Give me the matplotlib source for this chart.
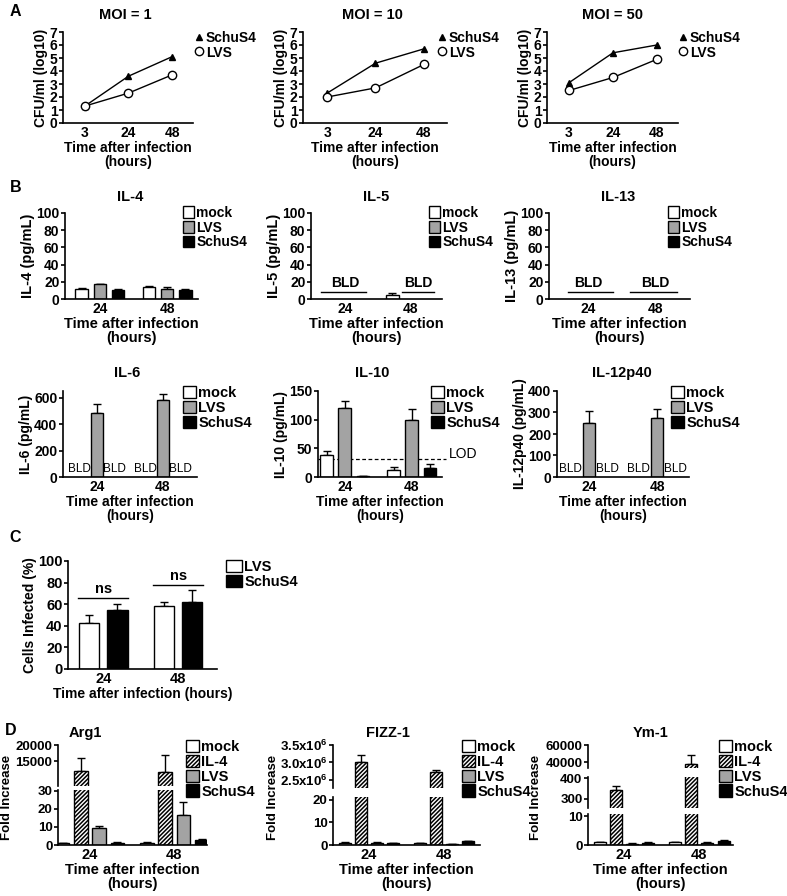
"""
Multi-panel figure: Francisella growth in macrophages (A), cytokines (B),
percent infected cells (C) and M2 marker expression (D).
"""

import numpy as np
import matplotlib
matplotlib.use("Agg")
import matplotlib.pyplot as plt
from matplotlib.patches import Patch
from matplotlib.lines import Line2D
from matplotlib import font_manager

# ---- Panel A: CFU/ml (log10) ----
moi_titles = ["MOI = 1", "MOI = 10", "MOI = 50"]
cfu_times = ["3", "24", "48"]
cfu_schus4 = [[1.3, 3.6, 5.1], [2.3, 4.6, 5.7], [3.1, 5.4, 6.0]]
cfu_lvs = [[1.3, 2.3, 3.7], [2.0, 2.7, 4.5], [2.5, 3.5, 4.9]]

# ---- Panel B: cytokines (pg/mL), nan = below limit of detection ----
cyto_times = ["24", "48"]
il4_mock, il4_mock_err = [12, 14], [1.0, 1.0]
il4_lvs, il4_lvs_err = [17, 12], [0.8, 2.5]
il4_schus4, il4_schus4_err = [11, 11], [0.6, 0.8]
il5_mock, il5_mock_err = [np.nan, 5], [np.nan, 2.5]
il6_lvs, il6_lvs_err = [480, 580], [75, 50]
il10_mock, il10_mock_err = [38, 12], [7, 5]
il10_lvs, il10_lvs_err = [120, 100], [12, 18]
il10_schus4, il10_schus4_err = [2, 16], [0.5, 6]
il10_lod = 31
il12_lvs, il12_lvs_err = [250, 275], [55, 40]
bld_level = 8

# ---- Panel C: cells infected (%) ----
infected_lvs, infected_lvs_err = [43, 58], [7, 4]
infected_schus4, infected_schus4_err = [55, 62], [5, 11]
ns_heights = [66, 78]

# ---- Panel D: fold increase ----
arg1_mock, arg1_mock_err = [1.0, 1.2], [0.1, 0.3]
arg1_il4, arg1_il4_err = [12000, 11700], [3900, 5200]
arg1_lvs, arg1_lvs_err = [9.5, 16.5], [1.2, 7.5]
arg1_schus4, arg1_schus4_err = [1.2, 2.8], [0.3, 0.8]
fizz_mock, fizz_mock_err = [1.0, 0.8], [0.15, 0.1]
fizz_il4, fizz_il4_err = [3.0e6, 2.73e6], [0.22e6, 0.05e6]
fizz_lvs, fizz_lvs_err = [0.9, 0.3], [0.3, 0.05]
fizz_schus4, fizz_schus4_err = [0.7, 1.6], [0.1, 0.3]
ym1_mock, ym1_mock_err = [1.0, 1.1], [0.1, 0.1]
ym1_il4, ym1_il4_err = [344, 38000], [19, 10800]
ym1_lvs, ym1_lvs_err = [0.5, 0.7], [0.1, 0.2]
ym1_schus4, ym1_schus4_err = [0.8, 1.3], [0.1, 0.3]

GRAY = "#a3a3a3"
HATCH = "////////"
W, H = 787, 896

plt.rcParams["font.family"] = ["Liberation Sans", "DejaVu Sans"]
plt.rcParams["font.weight"] = "bold"
plt.rcParams["axes.labelweight"] = "bold"
plt.rcParams["mathtext.fontset"] = "custom"
plt.rcParams["mathtext.bf"] = "Liberation Sans:bold"
plt.rcParams["mathtext.rm"] = "Liberation Sans:bold"
plt.rcParams["mathtext.default"] = "bf"
plt.rcParams["hatch.linewidth"] = 1.1

names = {f.name for f in font_manager.fontManager.ttflist}
NARROW = "Liberation Sans Narrow" if "Liberation Sans Narrow" in names else "Liberation Sans"

fig = plt.figure(figsize=(W / 100, H / 100), dpi=100)


def px_axes(l, t, r, b):
    return fig.add_axes([l / W, 1 - b / H, (r - l) / W, (b - t) / H])


def fig_text(x, y, s, **kw):
    kw.setdefault("ha", "center")
    kw.setdefault("va", "center")
    fig.text(x / W, 1 - y / H, s, **kw)


def style_axes(ax, fs, bottom=True, family=None):
    for s in ["top", "right"]:
        ax.spines[s].set_visible(False)
    ax.spines["left"].set_linewidth(1.2)
    ax.spines["bottom"].set_linewidth(1.2)
    ax.tick_params(axis="y", length=3, width=1.2, labelsize=fs, pad=1)
    ax.tick_params(axis="x", length=0, labelsize=fs, pad=2)
    if family:
        ax.tick_params(labelfontfamily=family)
    if not bottom:
        ax.spines["bottom"].set_visible(False)
        ax.set_xticks([])
    ax.set_facecolor("none")


def draw_bars(ax, series, offsets, width):
    x = np.arange(2)
    for (vals, errs, color, hatch), off in zip(series, offsets):
        v = np.array(vals, float)
        e = np.array(errs, float)
        ax.bar(x + off, v, width, color=color, edgecolor="black", lw=1,
               hatch=hatch, zorder=2)
        ax.errorbar(x + off, v, yerr=[np.zeros_like(e), e], fmt="none",
                    ecolor="black", elinewidth=1, capsize=3, capthick=1, zorder=1)


def legend_at(ax, handles, labels, x, y, fs, family=None, hl=0.9):
    prop = {"size": fs, "weight": "bold"}
    if family:
        prop["family"] = family
    ax.legend(handles, labels, loc="upper left", bbox_to_anchor=(x / W, 1 - y / H),
              bbox_transform=fig.transFigure, frameon=False, prop=prop,
              handlelength=hl, handleheight=0.9, handletextpad=0.15,
              labelspacing=0.05, borderpad=0, borderaxespad=0)


def box(color, hatch=None):
    return Patch(facecolor=color, edgecolor="black", lw=1, hatch=hatch)


# ================= Panel A =================
a_boxes = [(63, 32, 193, 123), (303, 32, 447, 123), (547, 32, 678, 123)]
a_titles_x = [125, 372, 612]
a_leg_x = [194, 437, 678]
for i, (l, t, r, b) in enumerate(a_boxes):
    ax = px_axes(l, t, r, b)
    x = np.arange(len(cfu_times))
    ax.plot(x, cfu_schus4[i], "-", color="black", lw=1, marker="^", ms=5,
            mfc="black", mec="black", clip_on=False, zorder=3)
    ax.plot(x, cfu_lvs[i], "-", color="black", lw=1, marker="o", ms=6,
            mfc="white", mec="black", mew=1, clip_on=False, zorder=3)
    ax.set_xlim(-0.5, 2.48)
    ax.set_ylim(0, 7)
    ax.set_yticks(range(8))
    ax.set_xticks(x)
    ax.set_xticklabels(cfu_times)
    style_axes(ax, 10)
    ax.set_ylabel("CFU/ml (log10)", fontsize=10, labelpad=1)
    ax.set_xlabel("Time after infection\n(hours)", fontsize=10, labelpad=1,
                  linespacing=0.95)
    fig_text(a_titles_x[i], 15, moi_titles[i], fontsize=10.5)
    handles = [Line2D([], [], ls="none", marker="^", ms=5, color="black"),
               Line2D([], [], ls="none", marker="o", ms=6, mfc="white", mec="black")]
    legend_at(ax, handles, ["SchuS4", "LVS"], a_leg_x[i], 31, 10, hl=0.7)

fig_text(15, 11, "A", fontsize=11.5)

# ================= Panel B =================
b_offsets = [-0.27, 0.0, 0.27]
bw = 0.19
b_handles = [box("white"), box(GRAY), box("black")]
b_labels = ["mock", "LVS", "SchuS4"]

# row 1: IL-4, IL-5, IL-13
row1 = [
    dict(box=(65, 213, 198, 299), xlim=(-0.52, 1.46), title="IL-4", tx=130,
         ylabel="IL-4 (pg/mL)", leg=183,
         series=[(il4_mock, il4_mock_err, "white", None),
                 (il4_lvs, il4_lvs_err, GRAY, None),
                 (il4_schus4, il4_schus4_err, "black", None)],
         bld=[]),
    dict(box=(311, 213, 442, 299), xlim=(-0.52, 1.49), title="IL-5", tx=376,
         ylabel="IL-5 (pg/mL)", leg=429,
         series=[(il5_mock, il5_mock_err, "white", None)],
         bld=[(-0.37, 0.33, 0.0), (0.88, 1.37, 1.13)]),
    dict(box=(549, 213, 690, 299), xlim=(-0.58, 1.52), title="IL-13", tx=618,
         ylabel="IL-13 (pg/mL)", leg=668,
         series=[],
         bld=[(-0.3, 0.37, 0.0), (0.63, 1.33, 1.0)]),
]
for p in row1:
    ax = px_axes(*p["box"])
    draw_bars(ax, p["series"], b_offsets, bw)
    for x0, x1, xt in p["bld"]:
        ax.plot([x0, x1], [bld_level, bld_level], color="black", lw=1)
        ax.text(xt, bld_level + 2, "BLD", ha="center", va="bottom", fontsize=10,
                family=NARROW)
    ax.set_xlim(*p["xlim"])
    ax.set_ylim(0, 100)
    ax.set_yticks(range(0, 101, 20))
    ax.set_xticks([0, 1])
    ax.set_xticklabels(cyto_times)
    style_axes(ax, 10, family=NARROW)
    ax.set_ylabel(p["ylabel"], fontsize=10.5, labelpad=1)
    ax.set_xlabel("Time after infection\n(hours)", fontsize=10.5, labelpad=1,
                  linespacing=0.95, family=NARROW)
    fig_text(p["tx"], 197, p["title"], fontsize=10.5, family=NARROW)
    legend_at(ax, b_handles, b_labels, p["leg"], 206, 10, family=NARROW, hl=0.8)

fig_text(16, 187, "B", fontsize=11.5)

# row 2: IL-6, IL-10, IL-12p40
row2 = [
    dict(box=(63, 391, 197, 477), xlim=(-0.52, 1.52), ylim=(0, 650),
         yticks=[0, 200, 400, 600], title="IL-6", tx=127, ylabel="IL-6 (pg/mL)",
         leg=183, series=[(il6_lvs, il6_lvs_err, GRAY, None)], bld=True),
    dict(box=(318, 391, 442, 477), xlim=(-0.4, 1.45), ylim=(0, 150),
         yticks=[0, 50, 100, 150], title="IL-10", tx=372, ylabel="IL-10 (pg/mL)",
         leg=431, series=[(il10_mock, il10_mock_err, "white", None),
                          (il10_lvs, il10_lvs_err, GRAY, None),
                          (il10_schus4, il10_schus4_err, "black", None)], bld=False),
    dict(box=(557, 391, 689, 477), xlim=(-0.47, 1.47), ylim=(0, 400),
         yticks=[0, 100, 200, 300, 400], title="IL-12p40", tx=622,
         ylabel="IL-12p40 (pg/mL)", leg=671,
         series=[(il12_lvs, il12_lvs_err, GRAY, None)], bld=True),
]
for p in row2:
    ax = px_axes(*p["box"])
    if len(p["series"]) == 1:
        draw_bars(ax, p["series"], [0.0], bw)
    else:
        draw_bars(ax, p["series"], b_offsets, bw)
    if p["bld"]:
        for g in range(2):
            for off in (-0.27, 0.27):
                ax.text(g + off, p["ylim"][1] * 0.02, "BLD", ha="center",
                        va="bottom", fontsize=8.5, weight="normal")
    else:
        ax.axhline(il10_lod, color="black", lw=0.9, ls=(0, (3, 2)), zorder=0,
                   xmax=1.03, clip_on=False)
        fig_text(463, 454, "LOD", fontsize=10, weight="normal")
    ax.set_xlim(*p["xlim"])
    ax.set_ylim(*p["ylim"])
    ax.set_yticks(p["yticks"])
    ax.set_xticks([0, 1])
    ax.set_xticklabels(cyto_times)
    style_axes(ax, 10)
    ax.set_ylabel(p["ylabel"], fontsize=10, labelpad=1)
    ax.set_xlabel("Time after infection\n(hours)", fontsize=10, labelpad=1,
                  linespacing=0.95)
    fig_text(p["tx"], 373, p["title"], fontsize=10.5)
    legend_at(ax, b_handles, b_labels, p["leg"], 386, 10.5)

# ================= Panel C =================
ax = px_axes(68, 561, 217, 669)
draw_bars(ax, [(infected_lvs, infected_lvs_err, "white", None),
               (infected_schus4, infected_schus4_err, "black", None)],
          [-0.19, 0.19], 0.27)
for g, h in enumerate(ns_heights):
    ax.plot([g - 0.33, g + 0.33], [h, h], color="black", lw=1, clip_on=False)
    ax.text(g, h + 2, "ns", ha="center", va="bottom", fontsize=10.5)
ax.set_xlim(-0.47, 1.52)
ax.set_ylim(0, 100)
ax.set_yticks(range(0, 101, 20))
ax.set_xticks([0, 1])
ax.set_xticklabels(cyto_times)
style_axes(ax, 10.5)
ax.set_ylabel("Cells Infected (%)", fontsize=10, labelpad=1)
ax.set_xlabel("Time after infection (hours)", fontsize=10, labelpad=1)
legend_at(ax, [box("white"), box("black")], ["LVS", "SchuS4"], 226, 560, 10.5,
          hl=1.1)
fig_text(15, 537, "C", fontsize=11.5)

# ================= Panel D =================
d_offsets = [-0.325, -0.108, 0.108, 0.325]
dw = 0.16
d_handles = [box("white"), box("white", HATCH), box(GRAY), box("black")]
d_labels = ["mock", "IL-4", "LVS", "SchuS4"]

d_panels = [
    dict(lr=(58, 207), xlim=(-0.38, 1.39), title="Arg1", tx=85, ylx=7, leg=186,
         tfs=9.5,
         series=[(arg1_mock, arg1_mock_err), (arg1_il4, arg1_il4_err),
                 (arg1_lvs, arg1_lvs_err), (arg1_schus4, arg1_schus4_err)],
         segs=[(745, 786, (7500, 20000), [15000, 20000], ["15000", "20000"]),
               (790, 845, (0, 30.5), [0, 10, 20, 30], ["0", "10", "20", "30"])]),
    dict(lr=(333, 480), xlim=(-0.48, 1.48), title="FIZZ-1", tx=388, ylx=273, leg=462,
         tfs=9.5,
         series=[(fizz_mock, fizz_mock_err), (fizz_il4, fizz_il4_err),
                 (fizz_lvs, fizz_lvs_err), (fizz_schus4, fizz_schus4_err)],
         segs=[(745, 788, (2.27e6, 3.5e6), [2.5e6, 3.0e6, 3.5e6],
                ["2.5x10$^6$", "3.0x10$^6$", "3.5x10$^6$"]),
               (797, 845, (0, 21.3), [0, 10, 20], ["0", "10", "20"])]),
    dict(lr=(588, 733), xlim=(-0.48, 1.45), title="Ym-1", tx=651, ylx=536, leg=719,
         tfs=9.5,
         series=[(ym1_mock, ym1_mock_err), (ym1_il4, ym1_il4_err),
                 (ym1_lvs, ym1_lvs_err), (ym1_schus4, ym1_schus4_err)],
         segs=[(745, 768, (33000, 60000), [40000, 60000], ["40000", "60000"]),
               (777, 808, (255, 405), [300, 400], ["300", "400"]),
               (814, 845, (0, 10.7), [0, 10], ["0", "10"])]),
]
d_styles = [("white", None), ("white", HATCH), (GRAY, None), ("black", None)]
for p in d_panels:
    l, r = p["lr"]
    series = [(v, e, c, h) for (v, e), (c, h) in zip(p["series"], d_styles)]
    n = len(p["segs"])
    for k, (t, b, ylim, yt, ytl) in enumerate(p["segs"]):
        ax = px_axes(l, t, r, b)
        draw_bars(ax, series, d_offsets, dw)
        ax.set_xlim(*p["xlim"])
        ax.set_ylim(*ylim)
        ax.set_yticks(yt)
        ax.set_yticklabels(ytl)
        last = k == n - 1
        if last:
            ax.set_xticks([0, 1])
            ax.set_xticklabels(cyto_times)
        style_axes(ax, p["tfs"], bottom=last)
        if last:
            ax.tick_params(axis="x", labelsize=10.5)
            ax.set_xlabel("Time after infection\n(hours)", fontsize=10.5,
                          labelpad=1, linespacing=0.95)
        if k == 0:
            legend_at(ax, d_handles, d_labels, p["leg"], 740, 10.5)
    fig_text(p["tx"], 733, p["title"], fontsize=10.5)
    fig_text(p["ylx"], 797, "Fold Increase", fontsize=9.5, rotation=90)

fig_text(11, 730, "D", fontsize=11.5)

fig.savefig("out.png", dpi=100)
